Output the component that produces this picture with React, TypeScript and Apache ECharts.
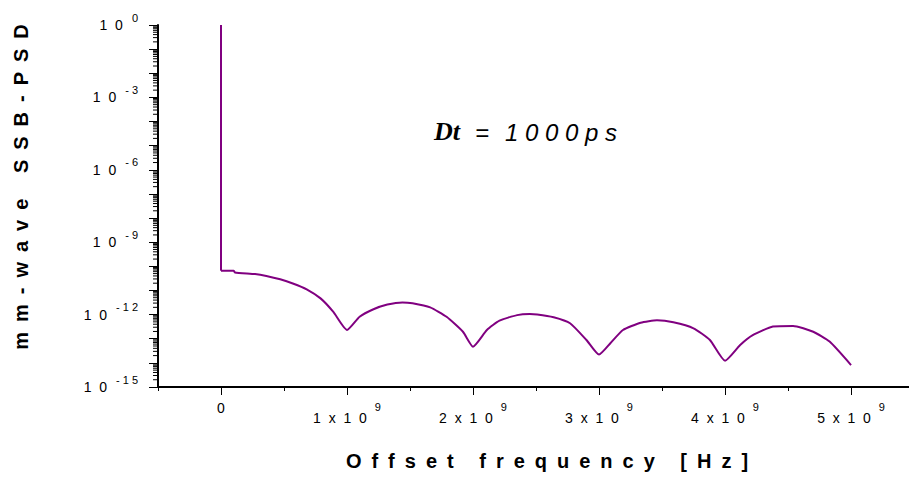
import React, { useEffect, useRef } from 'react';
import * as echarts from 'echarts';

// Offset frequency in units of 1e9 Hz
const FREQ_GHZ = [
  0, 0, 0.10, 0.11, 0.27, 0.36, 0.47, 0.57, 0.68, 0.79,
  0.89, 1.00, 1.10, 1.21, 1.32, 1.44, 1.52, 1.66, 1.79, 1.92,
  2.00, 2.11, 2.21, 2.35, 2.45, 2.51, 2.64, 2.77, 2.90, 3.00,
  3.09, 3.19, 3.33, 3.46, 3.59, 3.75, 3.88, 4.00, 4.12, 4.22,
  4.38, 4.54, 4.70, 4.83, 5.00,
];
// mm-wave SSB-PSD
const PSD = [
  1, 6.6e-11, 6.6e-11, 5.6e-11, 4.8e-11, 4.0e-11, 2.9e-11, 1.95e-11, 1.12e-11, 4.7e-12,
  1.32e-12, 2.3e-13, 8.1e-13, 1.66e-12, 2.6e-12, 3.2e-12, 2.95e-12, 2.0e-12, 8.1e-13, 1.95e-13,
  4.7e-14, 2.3e-13, 5.6e-13, 9.5e-13, 1.05e-12, 1.02e-12, 7.8e-13, 4.4e-13, 8.9e-14, 2.2e-14,
  6.5e-14, 2.3e-13, 4.6e-13, 5.8e-13, 4.8e-13, 2.7e-13, 8.9e-14, 1.23e-14, 5.5e-14, 1.41e-13,
  3.2e-13, 3.4e-13, 1.95e-13, 7.6e-14, 8.1e-15,
];
const X_MAJOR_TICKS = [0, 1e9, 2e9, 3e9, 4e9, 5e9];
const Y_LABEL_EXPONENTS = [0, -3, -6, -9, -12, -15];
const X_MIN = -0.5e9;
const X_MAX = 5.46e9;
const Y_MIN = 1e-15;
const Y_MAX = 1;

const SANS = "'Liberation Sans', Arial, sans-serif";
const SERIF = "'Liberation Serif', 'Times New Roman', serif";
const GAP = '\u2002';

const spaced = (s: string) =>
  s.split(' ').map((w) => w.split('').join(GAP)).join(GAP + ' ' + GAP);

export default function App() {
  const ref = useRef<HTMLDivElement>(null);
  useEffect(() => {
    const chart = echarts.init(ref.current!, null, { renderer: 'svg' });

    const minorTicks: number[][] = [];
    for (let k = -15; k < 0; k++) {
      for (let m = 2; m <= 9; m++) minorTicks.push([X_MIN, m * Math.pow(10, k)]);
    }
    const points = FREQ_GHZ.map((f, i) => [f * 1e9, PSD[i]]);
    const spike = points.slice(0, 2);
    const curve = points.slice(1);

    const option: any = {
      animation: false,
      backgroundColor: '#fff',
      grid: { left: 158, right: 0, top: 25, bottom: 90, containLabel: false, outerBoundsMode: 'none' },
      xAxis: [
        {
          type: 'value',
          min: X_MIN,
          max: X_MAX,
          interval: 0.5e9,
          axisLine: { show: true, onZero: false, lineStyle: { color: '#000', width: 2 } },
          axisTick: { show: true, length: 4, lineStyle: { color: '#000', width: 1 } },
          splitLine: { show: false },
          axisLabel: {
            margin: 14,
            color: '#000',
            formatter: (v: number) => {
              const k = Math.round(v / 1e9);
              if (Math.abs(v - k * 1e9) > 1e3 || k < 0) return '';
              if (k === 0) return '{z|0}';
              return `{b|${k}  x  1  0}{s|9}`;
            },
            rich: {
              z: { fontFamily: SANS, fontSize: 14, color: '#000', lineHeight: 18, verticalAlign: 'top' },
              b: { fontFamily: SANS, fontSize: 14, color: '#000', lineHeight: 24, verticalAlign: 'bottom' },
              s: { fontFamily: SANS, fontSize: 11, color: '#000', lineHeight: 11, verticalAlign: 'top', padding: [0, 0, 0, 8] },
            },
          },
        },
        {
          type: 'value',
          min: X_MIN,
          max: X_MAX,
          position: 'bottom',
          axisLine: { show: false, onZero: false },
          axisTick: { show: true, length: 8, customValues: X_MAJOR_TICKS, lineStyle: { color: '#000', width: 1 } },
          axisLabel: { show: false },
          splitLine: { show: false },
        },
      ],
      yAxis: [
        {
          type: 'log',
          logBase: 10,
          min: Y_MIN,
          max: Y_MAX,
          interval: 1,
          splitNumber: 15,
          axisLine: { show: true, onZero: false, lineStyle: { color: '#000', width: 2 } },
          axisTick: { show: true, length: 9, lineStyle: { color: '#000', width: 1 } },
          splitLine: { show: false },
          axisLabel: {
            margin: 20,
            color: '#000',
            formatter: (v: number) => {
              const e = Math.round(Math.log10(v));
              if (Y_LABEL_EXPONENTS.indexOf(e) < 0) return '';
              return `{b|1  0}{s|${String(e).split('').join(' ')}}`;
            },
            rich: {
              b: { fontFamily: SANS, fontSize: 14, color: '#000', lineHeight: 26, verticalAlign: 'middle' },
              s: { fontFamily: SANS, fontSize: 11, color: '#000', lineHeight: 11, verticalAlign: 'top', padding: [0, 0, 0, 9] },
            },
          },
        },
      ],
      series: [
        {
          type: 'custom',
          xAxisIndex: 0,
          yAxisIndex: 0,
          silent: true,
          clip: false,
          data: minorTicks,
          renderItem: (_p: any, api: any) => {
            const pt = api.coord([api.value(0), api.value(1)]);
            return {
              type: 'line',
              shape: { x1: pt[0] - 5, y1: pt[1], x2: pt[0], y2: pt[1] },
              style: { stroke: '#000', lineWidth: 1 },
            };
          },
        },
        {
          type: 'line',
          xAxisIndex: 0,
          yAxisIndex: 0,
          data: spike,
          showSymbol: false,
          symbol: 'none',
          lineStyle: { color: '#800080', width: 2 },
          itemStyle: { color: '#800080' },
          z: 5,
        },
        {
          type: 'line',
          xAxisIndex: 0,
          yAxisIndex: 0,
          data: curve,
          smooth: 0.18,
          showSymbol: false,
          symbol: 'none',
          lineStyle: { color: '#800080', width: 2 },
          itemStyle: { color: '#800080' },
          z: 5,
        },
      ],
      graphic: [
        {
          type: 'text',
          x: 21,
          y: 187,
          rotation: Math.PI / 2,
          style: {
            text: spaced('mm-wave SSB-PSD'),
            font: `bold 20px ${SANS}`,
            fill: '#000',
            align: 'center',
            verticalAlign: 'middle',
          },
        },
        {
          type: 'text',
          x: 547,
          y: 461,
          style: {
            text: spaced('Offset frequency [Hz]'),
            font: `bold 20px ${SANS}`,
            fill: '#000',
            align: 'center',
            verticalAlign: 'middle',
          },
        },
        {
          type: 'text',
          x: 434,
          y: 131,
          style: {
            text: 'Dt',
            font: `italic bold 26px ${SERIF}`,
            fill: '#000',
            align: 'left',
            verticalAlign: 'middle',
          },
        },
        {
          type: 'text',
          x: 475,
          y: 132,
          style: {
            text: '=',
            font: `italic 24px ${SANS}`,
            fill: '#000',
            align: 'left',
            verticalAlign: 'middle',
          },
        },
        {
          type: 'text',
          x: 505,
          y: 132,
          style: {
            text: '1 0 0 0 p s',
            font: `italic 24px ${SANS}`,
            fill: '#000',
            align: 'left',
            verticalAlign: 'middle',
          },
        },
      ],
    };
    chart.setOption(option);
    return () => chart.dispose();
  }, []);
  return <div ref={ref} style={{ position: 'fixed', left: 0, top: 0, width: 909, height: 477, background: '#fff' }} />;
}
